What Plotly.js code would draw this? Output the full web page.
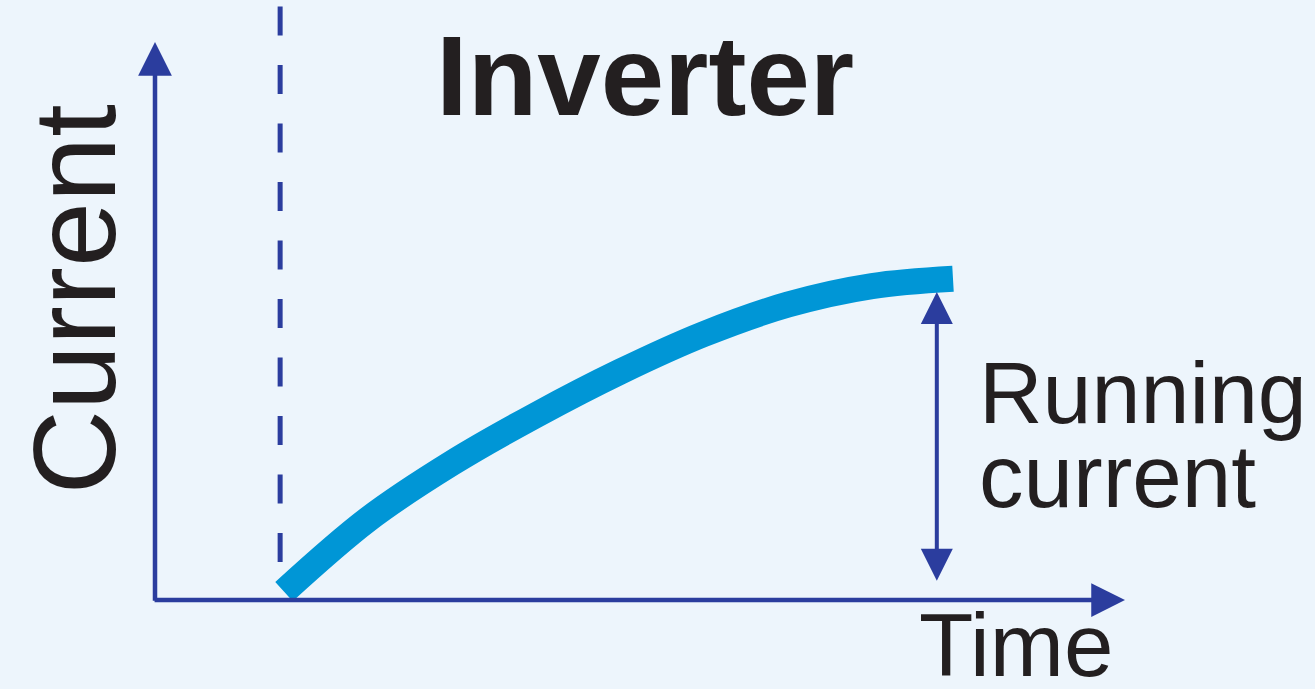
<!DOCTYPE html>
<html>
<head>
<meta charset="utf-8">
<script src="https://cdn.plot.ly/plotly-3.0.1.min.js"></script>
<style>
  html, body { margin: 0; padding: 0; background: #edf5fc; }
  #chart { width: 1315px; height: 689px; }
</style>
</head>
<body>
<div id="chart"></div>
<script>
// ---- data ----
const timeVals    = [1.330, 2.196, 3.062, 3.928, 4.794, 5.660, 6.526, 7.392, 8.227];
const currentVals = [0.152, 1.446, 2.455, 3.314, 4.090, 4.767, 5.294, 5.625, 5.756];
const startTime = 1.29;            // dashed start marker
const startMarkerTop = 10.75;
const startMarkerBottom = 0.68;
const runningTime = 8.06;          // running-current arrow
const runningTop = 5.52;
const runningBottom = 0.32;
const axisEnd = [10, 10];          // x-axis and y-axis arrow tips

const titleText = 'Inverter';
const yLabel = 'Current';
const xLabel = 'Time';
const runLabel1 = 'Running';
const runLabel2 = 'current';

const bg = '#edf5fc';
const axisColor = '#2b3d9e';
const curveColor = '#0096d6';
const textColor = '#231f20';
const font = 'Liberation Sans, Arial, Helvetica, sans-serif';

const W = 1315, H = 689;
const px = v => v / W;
const py = v => 1 - v / H;

const traces = [{
  type: 'scatter', mode: 'lines',
  x: timeVals, y: currentVals,
  line: { color: curveColor, width: 26, shape: 'spline', smoothing: 1 },
  hoverinfo: 'skip', showlegend: false
}];

const annotations = [
  // x axis
  { xref: 'x', yref: 'y', axref: 'x', ayref: 'y', x: axisEnd[0], y: 0, ax: -0.02, ay: 0,
    text: '', showarrow: true, arrowhead: 2, arrowsize: 1.5, arrowwidth: 4.5, arrowcolor: axisColor, standoff: 0 },
  // y axis
  { xref: 'x', yref: 'y', axref: 'x', ayref: 'y', x: 0, y: axisEnd[1], ax: 0, ay: -0.04,
    text: '', showarrow: true, arrowhead: 2, arrowsize: 1.5, arrowwidth: 4.5, arrowcolor: axisColor, standoff: 0 },
  // running current double arrow
  { xref: 'x', yref: 'y', axref: 'x', ayref: 'y', x: runningTime, y: runningTop, ax: runningTime, ay: runningBottom,
    text: '', showarrow: true, arrowside: 'end+start', arrowhead: 2, startarrowhead: 2,
    arrowsize: 1.6, startarrowsize: 1.6, arrowwidth: 4, arrowcolor: axisColor, standoff: 0, startstandoff: 0 },
  // texts
  { xref: 'paper', yref: 'paper', x: px(645), y: py(75.5), xanchor: 'center', yanchor: 'middle',
    text: '<b>' + titleText + '</b>', showarrow: false,
    font: { family: font, size: 114, color: textColor } },
  { xref: 'paper', yref: 'paper', x: px(73.5), y: py(300), xanchor: 'center', yanchor: 'middle',
    text: yLabel, textangle: -90, showarrow: false,
    font: { family: font, size: 117, color: textColor } },
  { xref: 'paper', yref: 'paper', x: px(977), y: py(392.5), xanchor: 'left', yanchor: 'middle',
    text: runLabel1, showarrow: false,
    font: { family: font, size: 88, color: textColor } },
  { xref: 'paper', yref: 'paper', x: px(977), y: py(476), xanchor: 'left', yanchor: 'middle',
    text: runLabel2, showarrow: false,
    font: { family: font, size: 89, color: textColor } },
  { xref: 'paper', yref: 'paper', x: px(917), y: py(645), xanchor: 'left', yanchor: 'middle',
    text: xLabel, showarrow: false,
    font: { family: font, size: 89, color: textColor } }
];

const shapes = [{
  type: 'line', xref: 'x', yref: 'y',
  x0: startTime, x1: startTime, y0: startMarkerBottom, y1: startMarkerTop,
  line: { color: axisColor, width: 5, dash: '29px,29.5px' }
}];

const layout = {
  width: W, height: H,
  margin: { l: 0, r: 0, t: 0, b: 0, pad: 0 },
  paper_bgcolor: bg, plot_bgcolor: bg,
  xaxis: { range: [-1.598, 11.959], visible: false, fixedrange: true },
  yaxis: { range: [-1.595, 10.753], visible: false, fixedrange: true },
  showlegend: false,
  annotations: annotations,
  shapes: shapes
};

Plotly.newPlot('chart', traces, layout, { displayModeBar: false, staticPlot: true });
</script>
</body>
</html>
